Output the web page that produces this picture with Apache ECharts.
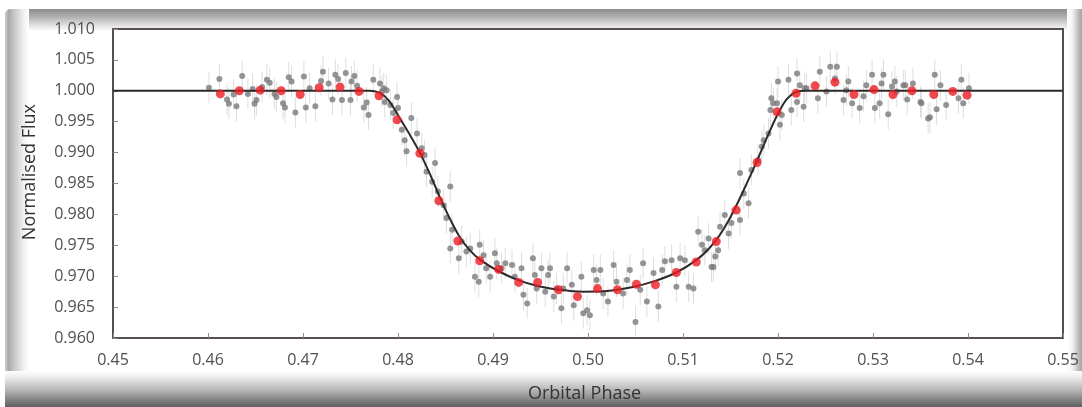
<!DOCTYPE html>
<html>
<head>
<meta charset="utf-8">
<script src="https://cdn.jsdelivr.net/npm/echarts@6/dist/echarts.min.js"></script>
<style>
  html, body { margin: 0; padding: 0; background: #ffffff; }
  #wrap { position: relative; width: 1082px; height: 407px; overflow: hidden; background: #ffffff; }
  .band { position: absolute; }
  #top { left: 5px; top: 9px; width: 1077px; height: 22px; border-top-left-radius: 6px; background: linear-gradient(to bottom, #8c8c8c 0%, #a9a9a9 30%, #dcdcdc 70%, #ffffff 100%); }
  #left { left: 5px; top: 9px; width: 24px; height: 398px; border-top-left-radius: 6px; background: linear-gradient(to right, #d2d2d2 0%, #a8a8a8 14%, #c8c8c8 40%, #eeeeee 75%, #ffffff 100%); }
  #bottom { left: 5px; top: 371px; width: 1077px; height: 36px; background: linear-gradient(to bottom, #ffffff 0%, #ececec 18%, #b2b2b2 55%, #7a7a7a 85%, #606060 100%); }
  #right { left: 1067px; top: 9px; width: 15px; height: 398px; background: linear-gradient(to right, #ffffff 0%, #f4f4f4 35%, #bdbdbd 75%, #a5a5a5 100%); }
  #chart { position: absolute; left: 0; top: 0; width: 1082px; height: 407px; }
</style>
</head>
<body>
<div id="wrap">
  <div class="band" id="top"></div>
  <div class="band" id="left"></div>
  <div class="band" id="right"></div>
  <div class="band" id="bottom"></div>
  <div id="chart"></div>
</div>
<script>
// ---- Data ----
const X_TICKS = { min: 0.45, max: 0.55, interval: 0.01 };
const Y_TICKS = { min: 0.960, max: 1.010, interval: 0.005 };
const ERROR_BAR = 0.0025;

// Individual measurements (phase, normalised flux)
const GREY_POINTS = [
  [0.4601,1.0005],[0.4612,1.0019],[0.4620,0.9986],[0.4622,0.9979],[0.4627,0.9994],[0.4630,0.9975],
  [0.4636,1.0024],[0.4642,0.9995],[0.4647,1.0003],[0.4649,0.9979],[0.4651,0.9985],[0.4657,1.0006],
  [0.4662,1.0018],[0.4665,1.0013],[0.4670,0.9995],[0.4672,0.9990],[0.4679,0.9980],[0.4681,0.9973],
  [0.4685,1.0022],[0.4688,1.0015],[0.4692,0.9965],[0.4701,1.0023],[0.4703,0.9973],[0.4707,1.0004],
  [0.4713,0.9975],[0.4719,1.0016],[0.4721,1.0031],[0.4727,1.0012],[0.4731,0.9986],[0.4734,1.0026],
  [0.4737,1.0019],[0.4741,0.9985],[0.4745,1.0029],[0.4750,0.9985],[0.4751,1.0015],[0.4754,1.0024],
  [0.4757,1.0008],[0.4764,0.9973],[0.4767,0.9981],[0.4769,0.9961],[0.4774,1.0018],[0.4781,1.0012],
  [0.4783,0.9999],[0.4785,1.0004],[0.4786,0.9982],[0.4788,1.0001],[0.4792,0.9977],[0.4795,0.9964],
  [0.4799,0.9990],[0.4800,0.9972],[0.4804,0.9937],[0.4807,0.9920],[0.4809,0.9902],[0.4814,0.9956],
  [0.4820,0.9931],[0.4825,0.9907],[0.4828,0.9896],[0.4830,0.9869],[0.4836,0.9853],[0.4839,0.9883],
  [0.4842,0.9837],[0.4848,0.9815],[0.4851,0.9794],[0.4855,0.9845],[0.4857,0.9775],[0.4855,0.9745],
  [0.4864,0.9729],[0.4867,0.9756],[0.4872,0.9740],[0.4876,0.9745],[0.4881,0.9699],[0.4885,0.9691],
  [0.4886,0.9751],[0.4890,0.9734],[0.4893,0.9713],[0.4897,0.9699],[0.4902,0.9737],[0.4904,0.9721],
  [0.4909,0.9713],[0.4913,0.9721],[0.4920,0.9718],[0.4923,0.9699],[0.4930,0.9713],[0.4932,0.9670],
  [0.4936,0.9656],[0.4942,0.9729],[0.4944,0.9702],[0.4946,0.9680],[0.4951,0.9713],[0.4955,0.9675],
  [0.4958,0.9702],[0.4960,0.9713],[0.4964,0.9667],[0.4967,0.9680],[0.4972,0.9648],[0.4974,0.9680],
  [0.4978,0.9713],[0.4983,0.9686],[0.4985,0.9653],[0.4993,0.9699],[0.4995,0.9640],[0.4999,0.9645],
  [0.5002,0.9637],[0.5006,0.9710],[0.5009,0.9694],[0.5013,0.9710],[0.5016,0.9672],[0.5021,0.9659],
  [0.5027,0.9718],[0.5030,0.9691],[0.5037,0.9672],[0.5041,0.9694],[0.5044,0.9710],[0.5050,0.9626],
  [0.5055,0.9678],[0.5058,0.9721],[0.5062,0.9659],[0.5069,0.9705],[0.5074,0.9651],[0.5078,0.9710],
  [0.5081,0.9724],[0.5088,0.9726],[0.5093,0.9683],[0.5097,0.9729],[0.5102,0.9726],[0.5106,0.9683],
  [0.5111,0.9680],[0.5116,0.9772],[0.5120,0.9751],[0.5123,0.9742],[0.5127,0.9761],[0.5130,0.9715],
  [0.5132,0.9715],[0.5134,0.9732],[0.5137,0.9742],[0.5139,0.9780],[0.5144,0.9799],[0.5148,0.9769],
  [0.5151,0.9786],[0.5160,0.9867],[0.5160,0.9791],[0.5164,0.9834],[0.5169,0.9818],[0.5172,0.9872],
  [0.5179,0.9888],[0.5183,0.9910],[0.5185,0.9920],[0.5190,0.9931],[0.5192,0.9969],[0.5193,0.9988],
  [0.5195,0.9980],[0.5199,0.9980],[0.5200,1.0015],[0.5202,0.9945],[0.5204,0.9961],[0.5211,1.0018],
  [0.5214,0.9969],[0.5220,1.0028],[0.5220,0.9982],[0.5223,1.0009],[0.5227,0.9974],[0.5228,1.0004],
  [0.5230,1.0004],[0.5242,0.9988],[0.5244,1.0031],[0.5251,0.9999],[0.5255,1.0039],[0.5260,1.0020],
  [0.5262,1.0039],[0.5269,0.9985],[0.5272,1.0001],[0.5274,1.0015],[0.5278,0.9980],[0.5286,0.9972],
  [0.5290,0.9991],[0.5293,1.0009],[0.5299,1.0026],[0.5302,0.9972],[0.5307,0.9980],[0.5309,1.0012],
  [0.5311,1.0026],[0.5316,0.9962],[0.5320,1.0007],[0.5323,1.0015],[0.5325,0.9999],[0.5332,1.0009],
  [0.5334,1.0009],[0.5336,0.9986],[0.5342,1.0012],[0.5350,0.9982],[0.5351,0.9980],[0.5358,0.9955],
  [0.5360,0.9957],[0.5365,1.0026],[0.5367,0.9970],[0.5371,1.0009],[0.5377,0.9977],[0.5390,0.9988],
  [0.5393,1.0018],[0.5395,0.9980],[0.5401,1.0004]
];

// Binned measurements (red)
const BINNED_POINTS = [
  [0.4613,0.9995],[0.4633,1.0000],[0.4655,1.0001],[0.4677,1.0000],[0.4697,0.9994],[0.4717,1.0005],
  [0.4739,1.0006],[0.4759,0.9999],[0.4780,0.9992],[0.4799,0.9953],[0.4823,0.9899],[0.4843,0.9822],
  [0.4863,0.9757],[0.4886,0.9725],[0.4906,0.9711],[0.4927,0.9690],[0.4947,0.9690],[0.4969,0.9678],
  [0.4989,0.9667],[0.5010,0.9680],[0.5031,0.9678],[0.5051,0.9687],[0.5071,0.9686],[0.5093,0.9706],
  [0.5114,0.9723],[0.5135,0.9756],[0.5156,0.9807],[0.5178,0.9884],[0.5199,0.9966],[0.5219,0.9996],
  [0.5239,1.0008],[0.5260,1.0014],[0.5280,0.9994],[0.5301,1.0002],[0.5321,0.9994],[0.5341,1.0000],
  [0.5364,0.9994],[0.5384,0.9999],[0.5399,0.9993]
];

// Transit model curve (black line)
const MODEL_CURVE = [
  [0.4500,1.0000],[0.4770,1.0000],[0.4780,0.9997],[0.4790,0.9985],[0.4801,0.9958],[0.4812,0.9930],
  [0.4823,0.9900],[0.4834,0.9864],[0.4844,0.9828],[0.4854,0.9795],[0.4864,0.9766],[0.4875,0.9743],
  [0.4887,0.9726],[0.4906,0.9708],[0.4926,0.9694],[0.4947,0.9684],[0.4970,0.9678],[0.4995,0.9675],
  [0.5020,0.9676],[0.5046,0.9682],[0.5070,0.9692],[0.5093,0.9706],[0.5114,0.9726],[0.5127,0.9744],
  [0.5138,0.9765],[0.5148,0.9790],[0.5158,0.9820],[0.5168,0.9853],[0.5178,0.9887],[0.5188,0.9923],
  [0.5199,0.9960],[0.5209,0.9986],[0.5219,0.9998],[0.5230,1.0000],[0.5500,1.0000]
];

const AXIS_TITLES = { x: 'Orbital Phase', y: 'Normalised Flux' };

// ---- Chart ----
const chart = echarts.init(document.getElementById('chart'), null, { renderer: 'canvas' });
const FONT = '"Open Sans", "DejaVu Sans", sans-serif';
const LABEL_COLOR = '#505050';

chart.setOption({
  backgroundColor: 'transparent',
  animation: false,
  grid: {
    left: 113, right: 19, top: 29, bottom: 69,
    containLabel: false, outerBoundsMode: 'none',
    show: true, borderColor: '#574f4f', borderWidth: 2, backgroundColor: 'transparent'
  },
  xAxis: {
    type: 'value',
    min: X_TICKS.min, max: X_TICKS.max, interval: X_TICKS.interval,
    axisLine: { show: true, onZero: false, lineStyle: { color: '#574f4f', width: 2 } },
    axisTick: { show: true, inside: true, length: 5, lineStyle: { color: '#8a8a8a' } },
    splitLine: { show: false },
    axisLabel: {
      margin: 14, fontFamily: FONT, fontSize: 16, color: LABEL_COLOR,
      formatter: v => v.toFixed(2)
    }
  },
  yAxis: {
    type: 'value',
    min: Y_TICKS.min, max: Y_TICKS.max, interval: Y_TICKS.interval,
    axisLine: { show: true, onZero: false, lineStyle: { color: '#574f4f', width: 2 } },
    axisTick: { show: true, inside: true, length: 5, lineStyle: { color: '#8a8a8a' } },
    splitLine: { show: false },
    axisLabel: {
      margin: 18, fontFamily: FONT, fontSize: 16, color: LABEL_COLOR,
      formatter: v => v.toFixed(3)
    }
  },
  graphic: [
    {
      type: 'text', left: 21, top: 104,
      rotation: Math.PI / 2,
      style: { text: AXIS_TITLES.y, font: '18px ' + FONT, fill: '#333333' }
    },
    {
      type: 'text', left: 528, top: 385,
      style: { text: AXIS_TITLES.x, font: '18px ' + FONT, fill: '#333333' }
    }
  ],
  series: [
    {
      type: 'custom',
      name: 'errors',
      data: GREY_POINTS,
      z: 1,
      renderItem: function (params, api) {
        const x = api.value(0), y = api.value(1);
        const p1 = api.coord([x, y - ERROR_BAR]);
        const p2 = api.coord([x, y + ERROR_BAR]);
        return {
          type: 'line',
          shape: { x1: p1[0], y1: p1[1], x2: p2[0], y2: p2[1] },
          style: { stroke: '#dedede', lineWidth: 1 }
        };
      }
    },
    {
      type: 'scatter',
      name: 'data',
      data: GREY_POINTS,
      symbolSize: 6,
      z: 2,
      itemStyle: { color: '#7b7b7b' }
    },
    {
      type: 'line',
      name: 'model',
      data: MODEL_CURVE,
      smooth: 0.3,
      showSymbol: false,
      z: 3,
      lineStyle: { color: '#2e2a2a', width: 2 }
    },
    {
      type: 'scatter',
      name: 'binned',
      data: BINNED_POINTS,
      symbolSize: 9,
      z: 4,
      itemStyle: { color: '#ec1c24' }
    }
  ]
});
</script>
</body>
</html>
